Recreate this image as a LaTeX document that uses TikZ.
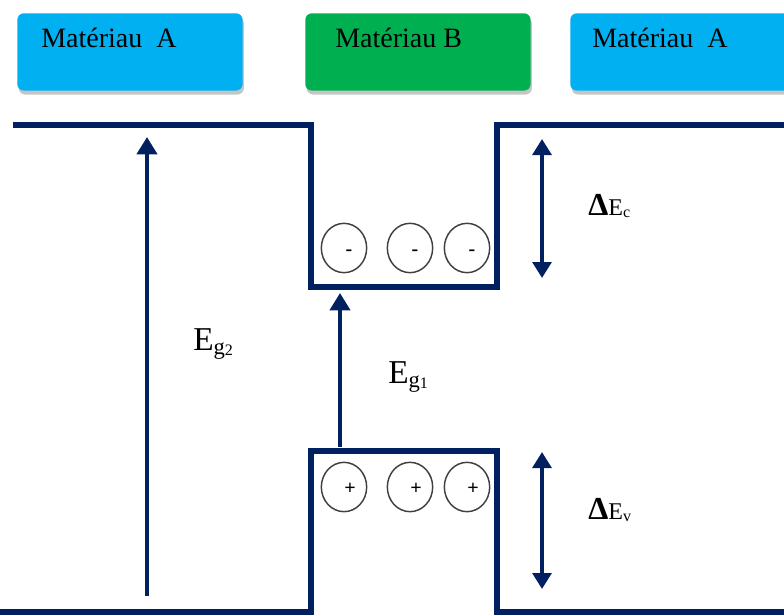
\documentclass[tikz,border=0pt]{standalone}
\usepackage{fontspec}
\setmainfont{Liberation Serif}
\usetikzlibrary{arrows.meta,shadows,shapes.geometric}

\definecolor{bandnavy}{HTML}{002060}
\definecolor{matblue}{HTML}{00B0F0}
\definecolor{matgreen}{HTML}{00B050}

\begin{document}
\begin{tikzpicture}[
        x=0.75pt, y=-0.75pt,
        material/.style={rounded corners=5pt, minimum width=169pt, minimum height=58pt, inner sep=0pt, anchor=north west,
            drop shadow={shadow xshift=1pt, shadow yshift=-3pt, fill=black!45}},
        matlabel/.style={anchor=base west, inner sep=0pt, font=\fontsize{21}{24}\selectfont},
        band/.style={bandnavy, line width=4.5pt},
        gap/.style={bandnavy, line width=3pt, -{Triangle[length=13pt,width=15pt]}},
        offset/.style={bandnavy, line width=3pt, {Triangle[length=12pt,width=14pt]}-{Triangle[length=12pt,width=14pt]}},
        carrier/.style={ellipse, draw=black!75, line width=1.1pt, minimum width=34pt, minimum height=37pt, inner sep=0pt},
        sign/.style={inner sep=0pt, font=\fontsize{15}{15}\selectfont\bfseries},
        energy/.style={anchor=base west, inner sep=0pt}
    ]
        \useasboundingbox (0,0) rectangle (784,614);

        % Material blocks on top
        \node[material, fill=matblue] (matA1) at (17,13) {};
        \node[material, fill=matgreen] (matB) at (305,13) {};
        \node[material, fill=matblue] (matA2) at (570,13) {};
        \node[matlabel] (labA1) at (41,47) {Matériau\ \ A};
        \node[matlabel] (labB) at (335,47) {Matériau B};
        \node[matlabel] (labA2) at (592,47) {Matériau\ \ A};

        % Conduction and valence band edges
        \draw[band] (13,125) -- (311,125) -- (311,287) -- (497,287) -- (497,125) -- (790,125);
        \draw[band] (-5,612) -- (311,612) -- (311,451) -- (497,451) -- (497,612) -- (790,612);

        % Electrons and holes in the well
        \foreach \cx [count=\k] in {344,410,467} {
            \node[carrier] (elec\k) at (\cx,248) {};
            \node[sign] (minus\k) at (\cx+5,253) {-};
            \node[carrier] (hole\k) at (\cx,487) {};
            \node[sign] (plus\k) at (\cx+6,489) {+};
        }

        % Gap and offset arrows
        \coordinate (eg2low) at (147,596);
        \coordinate (eg2top) at (147,137);
        \coordinate (eg1low) at (340,447);
        \coordinate (eg1top) at (340,293);
        \coordinate (dectop) at (542,139);
        \coordinate (declow) at (542,278);
        \coordinate (devtop) at (542,452);
        \coordinate (devlow) at (542,589);
        \draw[gap] (eg2low) -- (eg2top);
        \draw[gap] (eg1low) -- (eg1top);
        \draw[offset] (dectop) -- (declow);
        \draw[offset] (devtop) -- (devlow);

        % Labels
        \node[energy] (eg2) at (193,350) {\fontsize{25}{30}\selectfont E\raisebox{-3pt}{\fontsize{17}{17}\selectfont g\raisebox{-1pt}{\fontsize{12}{12}\selectfont 2}}};
        \node[energy] (eg1) at (388,383) {\fontsize{25}{30}\selectfont E\raisebox{-3pt}{\fontsize{17}{17}\selectfont g\raisebox{-1pt}{\fontsize{12}{12}\selectfont 1}}};
        \node[energy] (dec) at (588,215) {\fontsize{24}{28}\selectfont\textbf{Δ}\fontsize{18}{20}\selectfont E\raisebox{-2pt}{\fontsize{12}{12}\selectfont c}};
        \node[energy] (dev) at (588,519) {\fontsize{24}{28}\selectfont\textbf{Δ}\fontsize{18}{20}\selectfont E\raisebox{-2pt}{\fontsize{12}{12}\selectfont v}};
    \end{tikzpicture}
\end{document}
